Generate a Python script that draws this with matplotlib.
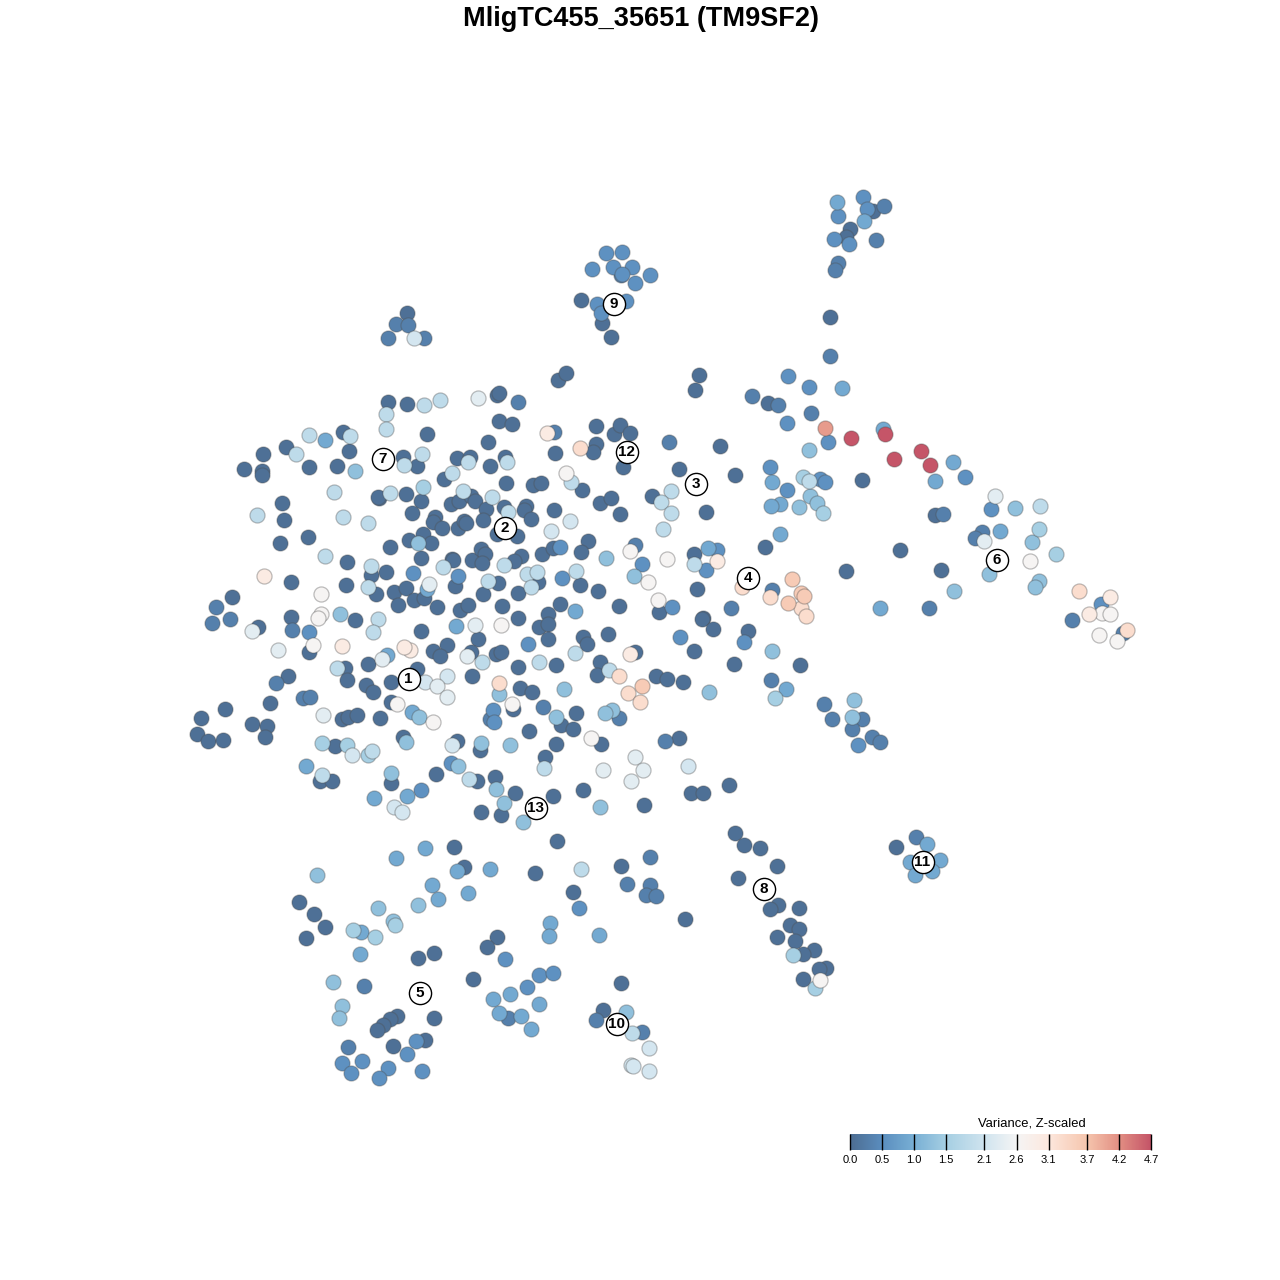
import numpy as np
import matplotlib
matplotlib.use("Agg")
import matplotlib.pyplot as plt
from matplotlib.colors import LinearSegmentedColormap, Normalize

plt.rcParams['font.family'] = ['Liberation Sans', 'DejaVu Sans']

title = "MligTC455_35651 (TM9SF2)"
legend_title = "Variance, Z-scaled"
bar_ticks = [0.0, 0.5, 1.0, 1.5, 2.1, 2.6, 3.1, 3.7, 4.2, 4.7]
bar_colors = ["#4d6d92", "#5b8ebf", "#79b0d5", "#a6cfe3", "#d0e4ef", "#f5f5f5",
              "#fde8de", "#f6c6ae", "#e39084", "#c55568"]

cluster_ids = ["1", "2", "3", "4", "5", "6", "7", "8", "9", "10", "11", "12", "13"]
cluster_x = [408, 504, 695, 747, 419, 996, 382, 763, 613, 616, 922, 626, 535]
cluster_y = [678, 527, 483, 577, 992, 559, 458, 888, 303, 1023, 861, 451, 807]

# cells in t-SNE map coordinates, grouped by their variance level
cells_005 = [(388,402),(407,404),(343,432),(427,434),(286,447),(263,454),(349,451),(244,469),(262,471),(262,475),
 (309,467),(337,466),(403,457),(417,466),(457,458),(470,457),(490,466),(444,479),(488,442),(497,395),(499,393),
 (499,421),(512,424),(379,498),(378,497),(406,494),(421,501),(412,513),(451,504),(459,501),(471,496),(475,501),
 (486,509),(483,520),(282,503),(284,520),(280,543),(308,537),(390,547),(409,540),(423,534),(431,543),(435,517),
 (433,522),(442,528),(458,528),(464,521),(466,523),(421,558),(452,559),(453,560),(472,560),(481,549),(485,554),
 (482,563),(497,534),(347,562),(371,575),(386,572),(346,585),(291,582),(376,594),(394,592),(406,588),(398,605),
 (414,600),(424,598),(437,607),(455,586),(483,594),(460,610),(468,605),(498,583),(232,597),(291,617),(355,620),
 (502,606),(558,380),(566,373),(505,457),(506,483),(533,485),(541,483),(526,506),(524,510),(531,519),(504,507),
 (517,536),(554,510),(555,453),(596,426),(614,434),(620,425),(630,433),(596,444),(593,452),(623,467),(582,490),
 (600,503),(611,498),(620,514),(652,496),(706,512),(679,469),(735,475),(720,446),(695,390),(699,375),(765,547),
 (521,556),(514,561),(542,554),(553,548),(588,541),(581,552),(694,554),(580,585),(598,591),(538,582),(518,593),
 (560,604),(548,614),(518,618),(619,606),(659,612),(697,589),(703,618),(258,627),(309,652),(421,631),(368,664),
 (433,651),(447,645),(440,656),(478,639),(471,652),(496,654),(501,652),(345,668),(347,680),(366,685),(373,692),
 (391,682),(417,669),(472,676),(288,676),(270,703),(391,702),(342,719),(348,717),(357,715),(380,718),(225,709),
 (201,718),(252,724),(267,726),(265,737),(197,734),(208,741),(223,740),(335,746),(403,737),(457,741),(480,750),
 (436,774),(320,781),(332,781),(391,783),(477,781),(495,777),(481,812),(454,847),(539,627),(548,624),(548,639),
 (583,637),(587,644),(608,634),(518,667),(556,665),(600,662),(597,675),(635,652),(656,676),(667,679),(683,682),
 (702,619),(713,629),(694,651),(748,631),(734,664),(800,665),(520,688),(532,692),(513,709),(576,713),(561,725),
 (573,729),(529,731),(556,744),(601,744),(545,757),(679,738),(729,785),(691,793),(703,793),(515,793),(501,815),
 (553,796),(583,790),(644,805),(557,841),(735,833),(744,845),(760,848),(768,403),(862,480),(935,515),(900,550),
 (846,571),(941,570),(464,867),(535,873),(621,866),(299,902),(314,914),(325,927),(306,938),(573,892),(497,937),
 (487,947),(418,958),(434,953),(473,979),(621,983),(603,1010),(397,1016),(390,1019),(383,1025),(377,1030),
 (434,1018),(425,1040),(393,1046),(873,211),(850,229),(846,237),(830,317),(581,300),(602,323),(611,337),(407,313),
 (777,866),(738,878),(778,905),(770,909),(799,908),(685,919),(790,925),(799,929),(777,937),(795,941),(814,950),
 (803,954),(826,968),(819,969),(803,979),(896,847)]
cells_030 = [(518,402),(554,432),(669,442),(752,396),(778,405),(811,413),(635,545),(731,608),(772,590),(216,607),
 (212,623),(230,619),(292,630),(303,698),(310,697),(276,683),(490,719),(543,707),(619,718),(665,741),(771,680),
 (824,704),(832,719),(862,719),(852,729),(872,737),(880,742),(943,514),(982,532),(975,538),(929,608),(1072,620),
 (1123,633),(650,857),(627,884),(650,885),(646,895),(656,896),(508,1018),(596,1020),(642,1032),(348,1047),(364,986),
 (884,206),(876,240),(838,263),(835,270),(830,356),(396,324),(408,325),(388,338),(424,338),(621,275),(916,837)]
cells_055 = [(413,573),(458,576),(309,632),(451,763),(493,710),(494,722),(528,644),(680,637),(744,642),(787,423),
 (770,467),(787,490),(560,547),(642,564),(706,570),(672,607),(562,578),(421,790),(579,908),(505,959),(539,975),
 (553,973),(527,987),(416,1041),(407,1054),(342,1063),(362,1061),(351,1073),(388,1068),(422,1071),(379,1078),
 (863,197),(867,209),(838,216),(834,239),(849,244),(606,253),(622,252),(592,269),(613,267),(632,267),(622,274),
 (650,275),(635,283),(597,304),(626,301),(601,313),(788,376),(809,387),(828,442),(965,477),(991,509),(820,479),
 (825,482),(858,745),(717,550),(1101,604)]
cells_090 = [(325,440),(427,589),(575,611),(772,482),(780,504),(771,506),(780,534),(708,548),(842,388),(883,429),
 (953,462),(935,481),(1000,531),(864,221),(306,766),(407,796),(374,798),(425,848),(396,858),(457,871),(490,869),
 (432,885),(468,893),(438,899),(361,932),(550,923),(549,936),(599,935),(360,954),(510,994),(493,999),(539,1004),
 (499,1013),(521,1016),(531,1029),(880,608),(786,689),(927,844),(940,860),(910,862),(932,871),(915,875),(837,202),
 (456,626),(387,655),(412,712)]
cells_125 = [(355,471),(418,543),(634,576),(340,614),(606,558),(499,694),(419,717),(406,742),(481,743),(391,773),
 (496,789),(504,803),(510,745),(523,822),(612,710),(605,713),(772,651),(709,692),(564,689),(556,717),(600,807),
 (317,875),(378,908),(333,982),(342,1006),(339,1018),(809,450),(810,496),(817,503),(799,507),(1015,508),(1032,542),
 (989,574),(1039,581),(1035,587),(954,591),(854,700),(852,717),(418,905),(393,921),(626,1012),(458,766)]
cells_150 = [(423,487),(322,743),(347,745),(368,755),(823,513),(803,477),(1039,529),(1056,554),(775,698),(395,925),
 (353,930),(375,937),(793,955),(815,988)]
cells_185 = [(309,435),(350,436),(296,454),(386,414),(386,429),(424,405),(440,400),(422,454),(404,465),(468,462),
 (452,473),(390,493),(463,491),(492,497),(334,492),(257,515),(343,517),(368,523),(325,556),(371,566),(443,567),
 (488,581),(368,587),(378,619),(373,632),(482,662),(337,668),(372,751),(322,775),(469,779),(544,768),(575,653),
 (539,662),(609,670),(571,482),(671,491),(661,502),(671,513),(663,529),(508,512),(507,462),(504,565),(527,574),
 (537,572),(531,587),(694,564),(576,571),(1040,506),(809,481),(581,869),(632,1033)]
cells_215 = [(551,531),(570,521),(425,682),(447,676),(352,755),(452,745),(394,807),(402,812),(688,766),(414,338),
 (649,1048),(631,1065),(633,1066),(649,1071)]
cells_235 = [(478,398),(429,584),(252,631),(278,650),(475,625),(437,686),(447,697),(323,715),(467,656),(382,659),
 (995,496),(984,541),(635,757),(643,770),(631,781),(603,770)]
cells_265 = [(321,594),(321,614),(318,618),(313,645),(501,625),(397,704),(433,722),(512,704),(591,738),(566,473),
 (630,551),(667,559),(648,582),(658,600),(1030,561),(1102,613),(1110,614),(1099,635),(1117,641),(820,980)]
cells_300 = [(264,576),(342,646),(410,650),(1089,614),(1110,597),(547,433),(717,561),(404,647),(630,654)]
cells_330 = [(499,683),(619,676),(628,693),(640,702),(580,448),(742,587),(770,597),(801,608),(806,616),(1079,591),(1127,630)]
cells_360 = [(792,579),(788,603),(801,593),(804,596),(642,686)]
cells_410 = [(824,427)]
cells_470 = [(851,438),(885,434),(894,459),(921,451),(930,465)]

groups = [(0.05, cells_005), (0.30, cells_030), (0.55, cells_055), (0.90, cells_090), (1.25, cells_125),
          (1.50, cells_150), (1.85, cells_185), (2.15, cells_215), (2.35, cells_235), (2.65, cells_265),
          (3.00, cells_300), (3.30, cells_330), (3.60, cells_360), (4.10, cells_410), (4.70, cells_470)]

W = 1280
fig = plt.figure(figsize=(12.8, 12.8), dpi=100, facecolor="white")
ax = fig.add_axes([0, 0, 1, 1])
ax.set_xlim(-0.5, W - 0.5)
ax.set_ylim(W - 0.5, -0.5)
ax.axis("off")

vmax = bar_ticks[-1]
cmap = LinearSegmentedColormap.from_list("var", [(t / vmax, c) for t, c in zip(bar_ticks, bar_colors)], N=512)
norm = Normalize(0, vmax)

for level, pts in groups:
    xy = np.array(pts, dtype=float)
    ax.scatter(xy[:, 0], xy[:, 1], c=np.full(len(xy), level), cmap=cmap, norm=norm, s=118,
               edgecolors=(0.3, 0.3, 0.3, 0.36), linewidths=0.9, zorder=2)

ax.scatter(cluster_x, cluster_y, s=255, facecolor="white", edgecolor="black", linewidths=1.0, zorder=3)
for cx, cy, cid in zip(cluster_x, cluster_y, cluster_ids):
    ax.text(cx, cy + 0.5, cid, ha="center", va="center", fontsize=11, fontweight="bold", color="black", zorder=4)

ax.text(640.5, 18.5, title, ha="center", va="center", fontsize=19.55, fontweight="bold", color="black")

# colour bar
cax = fig.add_axes([850 / W, 1 - 1149.5 / W, 301 / W, 15.5 / W])
grad = np.linspace(0, vmax, 600).reshape(1, -1)
cax.imshow(grad, aspect="auto", cmap=cmap, norm=norm, extent=[0, vmax, 0, 1])
cax.set_xlim(0, vmax)
cax.set_yticks([])
for s in cax.spines.values():
    s.set_visible(False)
cax.set_xticks(bar_ticks)
cax.set_xticklabels([f"{t:.1f}" for t in bar_ticks], fontsize=8)
cax.tick_params(axis="x", length=0, pad=4)
cax.vlines(bar_ticks, 0, 1, color="black", linewidth=1.0, clip_on=False)
cax.set_ylim(0, 1)
ax.text(1031, 1122.5, legend_title, ha="center", va="center", fontsize=9.4, color="black")

fig.savefig("out.png", dpi=100)
